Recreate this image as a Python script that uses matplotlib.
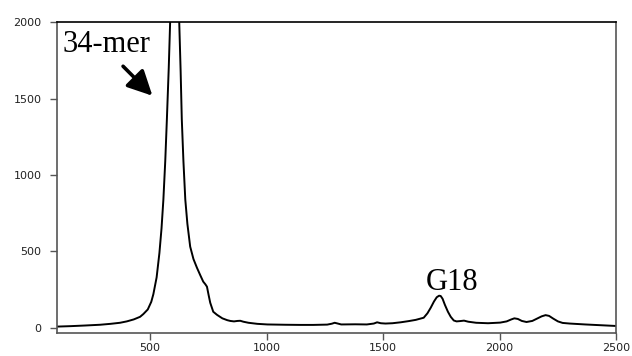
import matplotlib.pyplot as plt
import numpy as np

# trace (migration time vs signal)
xs = [100, 160, 220, 285, 330, 371, 400, 430, 457, 471, 490, 505, 514,
      528, 540, 549, 557, 565, 572, 580, 586, 595, 605, 615, 625, 631,
      636, 643, 651, 660, 672, 686, 701, 715, 728, 737, 744, 751, 758,
      771, 787, 810, 831, 844, 860, 875, 887, 900, 922, 960, 1003, 1080,
      1145, 1200, 1260, 1280, 1292, 1305, 1320, 1380, 1430, 1460, 1474,
      1490, 1510, 1540, 1575, 1610, 1640, 1674, 1690, 1704, 1718, 1730,
      1740, 1747, 1755, 1765, 1778, 1790, 1803, 1815, 1830, 1847, 1865,
      1899, 1950, 2002, 2030, 2050, 2063, 2078, 2095, 2115, 2140, 2160,
      2180, 2197, 2212, 2230, 2250, 2270, 2300, 2367, 2420, 2500]
ys = [8, 11, 15, 20, 26, 33, 42, 55, 72, 90, 120, 170, 220,
      330, 490, 650, 839, 1090, 1364, 1700, 2000, 2600, 3000, 2600, 2000, 1680,
      1364, 1090, 839, 680, 531, 450, 393, 345, 302, 285, 269, 215, 164,
      105, 85, 62, 50, 45, 42, 45, 46, 40, 33, 26, 22, 20,
      19, 19, 21, 27, 33, 28, 22, 23, 22, 28, 36,
      30, 28, 30, 36, 44, 52, 66, 95, 131, 172, 200,
      210, 208, 190, 150, 105, 72, 48, 42, 44, 47, 40,
      33, 30, 34, 42, 55, 62, 58, 45, 38, 45, 60,
      75, 83, 78, 60, 42, 32, 28, 22, 18, 12]

fig = plt.figure(figsize=(6.32, 3.56), dpi=100)
ax = fig.add_axes([0.090, 0.065, 0.885, 0.873])

ax.plot(xs, ys, color='black', lw=1.4)

ax.set_xlim(100, 2500)
ax.set_ylim(-33, 2000)
ax.set_xticks([500, 1000, 1500, 2000, 2500])
ax.set_yticks([0, 500, 1000, 1500, 2000])
ax.tick_params(direction='out', length=5, width=1, color='#555555',
               labelsize=8, labelcolor='#222222', top=False, right=False)
ax.tick_params(axis='y', pad=6)
ax.tick_params(axis='x', pad=2.5)
for lab in ax.get_xticklabels() + ax.get_yticklabels():
    lab.set_fontfamily('DejaVu Sans')
for s in ax.spines.values():
    s.set_color('#555555')
    s.set_linewidth(1.2)
ax.spines['top'].set_color('black')

ax.text(126, 1803, '34-mer', fontsize=22, family='Liberation Serif',
        va='baseline', ha='left')
ax.annotate('', xy=(510, 1518), xytext=(384, 1711),
            arrowprops=dict(arrowstyle='-|>,head_length=1.5,head_width=0.75',
                            color='black', lw=2.6, shrinkA=0, shrinkB=0))
ax.text(1795, 250, 'G18', fontsize=22, family='Liberation Serif',
        va='baseline', ha='center')

fig.savefig('out.png', dpi=100)
